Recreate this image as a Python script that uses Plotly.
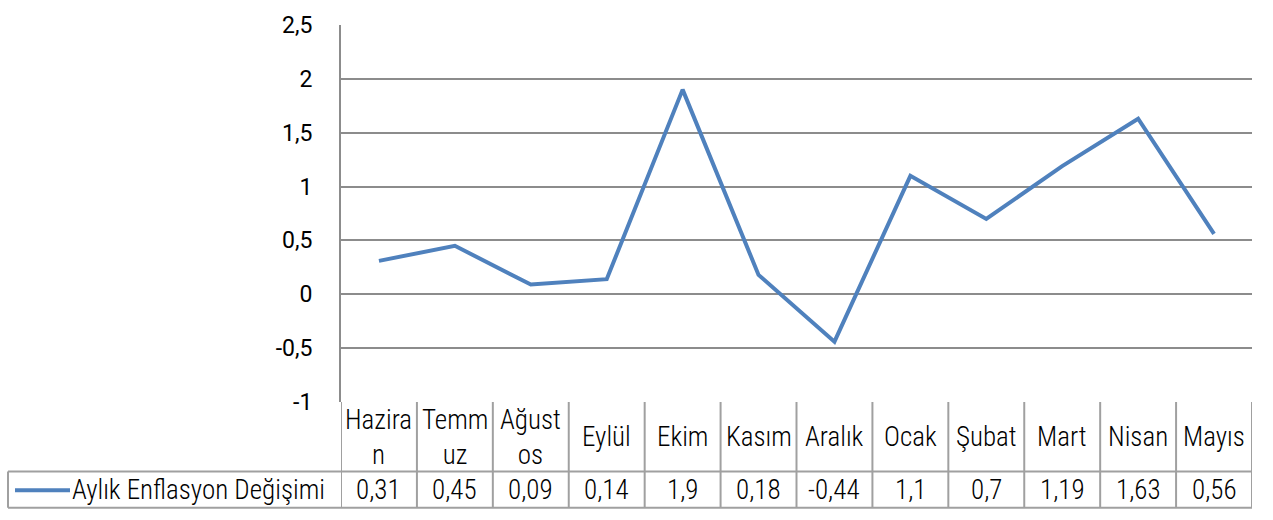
import plotly.graph_objects as go

months = ["Haziran", "Temmuz", "Ağustos", "Eylül", "Ekim", "Kasım", "Aralık",
          "Ocak", "Şubat", "Mart", "Nisan", "Mayıs"]
month_labels = ["Hazira<br>n", "Temm<br>uz", "Ağust<br>os", "Eylül", "Ekim", "Kasım",
                "Aralık", "Ocak", "Şubat", "Mart", "Nisan", "Mayıs"]
values = [0.31, 0.45, 0.09, 0.14, 1.9, 0.18, -0.44, 1.1, 0.7, 1.19, 1.63, 0.56]
series_name = "Aylık Enflasyon Değişimi"
y_ticks = [-1, -0.5, 0, 0.5, 1, 1.5, 2, 2.5]
y_tick_text = ["-1", "-0,5", "0", "0,5", "1", "1,5", "2", "2,5"]

W, H = 1273, 520
L, R, T, B = 341, 1252, 17, 402
FONT = "Roboto Condensed, sans-serif"
FS = 27
FW = 300
TICK_FONT = "Roboto"
TICK_FS = 23
GRID = "#8c8c8c"
TBL = "#a0a0a0"
BLUE = "#4f81bd"

pw, ph = R - L, B - T


def px(xp):
    return (xp - L) / pw


def py(yp):
    return (B - yp) / ph


xs = list(range(len(months)))

fig = go.Figure()
fig.add_trace(go.Scatter(x=xs, y=values, mode="lines", name=series_name,
                         line=dict(color=BLUE, width=4), showlegend=False,
                         hoverinfo="skip"))

shapes = []
head_bot = 473
val_bot = 510
for i in range(len(months) + 1):
    shapes.append(dict(type="line", xref="x", yref="paper", x0=i - 0.5, x1=i - 0.5,
                       y0=py(B), y1=py(val_bot), line=dict(color=TBL, width=2)))
shapes.append(dict(type="line", xref="paper", yref="paper", x0=px(8), x1=1,
                   y0=py(head_bot), y1=py(head_bot), line=dict(color=TBL, width=2)))
shapes.append(dict(type="line", xref="paper", yref="paper", x0=px(8), x1=1,
                   y0=py(val_bot), y1=py(val_bot), line=dict(color=TBL, width=2)))
shapes.append(dict(type="line", xref="paper", yref="paper", x0=px(8), x1=px(8),
                   y0=py(head_bot), y1=py(val_bot), line=dict(color=TBL, width=2)))
shapes.append(dict(type="line", xref="paper", yref="paper", x0=px(15), x1=px(70),
                   y0=py(492), y1=py(492), line=dict(color=BLUE, width=4)))

tfont = dict(family=FONT, size=FS, color="black", weight=FW)
annotations = []
for i, lab in enumerate(month_labels):
    annotations.append(dict(x=i, y=py(438), xref="x", yref="paper", text=lab,
                            showarrow=False, xanchor="center", yanchor="middle",
                            font=tfont))
for i, v in enumerate(values):
    annotations.append(dict(x=i, y=py(492), xref="x", yref="paper",
                            text=str(v).replace(".", ","),
                            showarrow=False, xanchor="center", yanchor="middle",
                            font=tfont))
annotations.append(dict(x=px(70), y=py(492), xref="paper", yref="paper", text=series_name,
                        showarrow=False, xanchor="left", yanchor="middle",
                        font=tfont))

fig.update_layout(
    width=W, height=H,
    margin=dict(l=L, r=W - R, t=T, b=H - B, pad=0),
    plot_bgcolor="white", paper_bgcolor="white",
    font=dict(family=FONT, size=FS, color="black"),
    shapes=shapes, annotations=annotations,
    xaxis=dict(range=[-0.5, len(months) - 0.5], showticklabels=False, showgrid=False,
               zeroline=False, showline=False, fixedrange=True),
    yaxis=dict(range=[-1, 2.5], tickvals=y_ticks, ticktext=y_tick_text,
               showgrid=True, gridcolor=GRID, gridwidth=1.5, zeroline=False,
               showline=True, linecolor=GRID, linewidth=2, ticks="",
               ticklabelstandoff=22, tickfont=dict(family=TICK_FONT, size=TICK_FS, color="black")),
)

fig.write_html("out.html", config={"displayModeBar": False},
               post_script="document.body.style.margin='0';document.body.style.overflow='hidden';")
